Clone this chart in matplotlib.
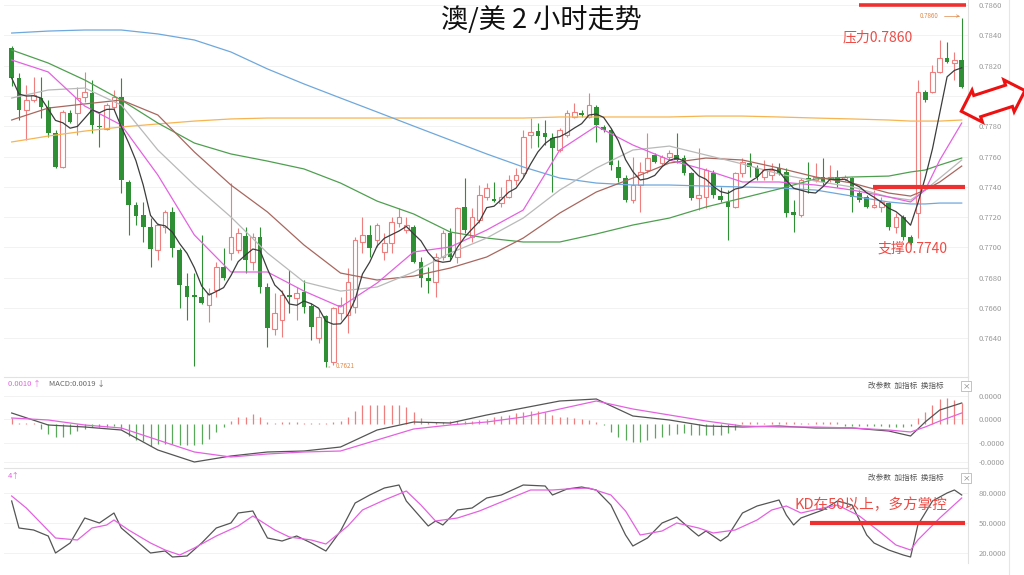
import numpy as np
import pandas as pd
import matplotlib
matplotlib.use("Agg")
import matplotlib.pyplot as plt
from matplotlib.lines import Line2D

plt.rcParams['font.family'] = ['Noto Sans CJK SC', 'DejaVu Sans']
plt.rcParams['axes.unicode_minus'] = False

# AUD/USD 2h candles (one row per bar)
opens = [0.78316, 0.78118, 0.77907, 0.77973, 0.77986, 0.77927, 0.77755, 0.77531, 0.77887, 0.77887,
         0.77993, 0.78019, 0.77801, 0.77782, 0.77927, 0.77993, 0.77432, 0.77280, 0.77214, 0.77135,
         0.76983, 0.77135, 0.77234, 0.76983, 0.76745, 0.76686, 0.76673, 0.76620, 0.76719, 0.76871,
         0.76963, 0.76983, 0.77075, 0.76904, 0.77069, 0.76739, 0.76462, 0.76521, 0.76686, 0.76666,
         0.76706, 0.76613, 0.76402, 0.76547, 0.76244, 0.76567, 0.76554, 0.76607, 0.77036, 0.77082,
         0.77049, 0.76970, 0.77029, 0.77161, 0.77115, 0.77135, 0.76904, 0.76798, 0.76772, 0.76937,
         0.77095, 0.76937, 0.77267, 0.77069, 0.77181, 0.77333, 0.77320, 0.77293, 0.77333, 0.77445,
         0.77491, 0.77742, 0.77768, 0.77755, 0.77722, 0.77643, 0.77742, 0.77861, 0.77887, 0.77861,
         0.77927, 0.77795, 0.77775, 0.77531, 0.77458, 0.77313, 0.77412, 0.77511, 0.77610, 0.77557,
         0.77597, 0.77610, 0.77590, 0.77491, 0.77326, 0.77333, 0.77491, 0.77339, 0.77300, 0.77267,
         0.77491, 0.77557, 0.77524, 0.77465, 0.77478, 0.77524, 0.77498, 0.77234, 0.77214, 0.77458,
         0.77445, 0.77465, 0.77452, 0.77465, 0.77452, 0.77458, 0.77359, 0.77333, 0.77267, 0.77267,
         0.77293, 0.77135, 0.77201, 0.77069, 0.77227, 0.78026, 0.78026, 0.78158, 0.78250, 0.78217,
         0.78237]
highs = [0.78329, 0.78151, 0.78072, 0.78125, 0.78125, 0.77973, 0.77775, 0.77907, 0.77907, 0.78059,
         0.78158, 0.78105, 0.77887, 0.77953, 0.78039, 0.78118, 0.77445, 0.77300, 0.77300, 0.77194,
         0.77161, 0.77247, 0.77267, 0.76996, 0.76831, 0.76831, 0.77082, 0.76732, 0.76904, 0.76996,
         0.77425, 0.77128, 0.77135, 0.77095, 0.77135, 0.76765, 0.76699, 0.76719, 0.76851, 0.76739,
         0.76785, 0.76633, 0.76587, 0.76554, 0.76607, 0.76673, 0.76864, 0.77069, 0.77201, 0.77148,
         0.77161, 0.77095, 0.77201, 0.77260, 0.77201, 0.77148, 0.76937, 0.76871, 0.76963, 0.77115,
         0.77128, 0.77267, 0.77458, 0.77260, 0.77412, 0.77425, 0.77432, 0.77399, 0.77478, 0.77524,
         0.77775, 0.77854, 0.77821, 0.77841, 0.77755, 0.77788, 0.77907, 0.77953, 0.77907, 0.78019,
         0.77940, 0.77808, 0.77788, 0.77577, 0.77478, 0.77597, 0.77564, 0.77755, 0.77623, 0.77610,
         0.77643, 0.77755, 0.77610, 0.77498, 0.77656, 0.77524, 0.77511, 0.77399, 0.77379, 0.77498,
         0.77590, 0.77623, 0.77544, 0.77577, 0.77557, 0.77557, 0.77524, 0.77313, 0.77458, 0.77564,
         0.77557, 0.77590, 0.77544, 0.77511, 0.77478, 0.77465, 0.77379, 0.77346, 0.77379, 0.77333,
         0.77300, 0.77227, 0.77214, 0.77082, 0.78105, 0.78039, 0.78204, 0.78369, 0.78356, 0.78290,
         0.78514]
lows = [0.78065, 0.77841, 0.77709, 0.77960, 0.77854, 0.77729, 0.77524, 0.77524, 0.77821, 0.77742,
        0.77960, 0.77755, 0.77663, 0.77775, 0.77907, 0.77359, 0.77082, 0.77148, 0.77036, 0.76871,
        0.76917, 0.77095, 0.76937, 0.76600, 0.76521, 0.76215, 0.76627, 0.76508, 0.76673, 0.76785,
        0.76917, 0.76963, 0.76831, 0.76851, 0.76699, 0.76343, 0.76422, 0.76409, 0.76567, 0.76521,
        0.76567, 0.76389, 0.76369, 0.76210, 0.76224, 0.76521, 0.76435, 0.76567, 0.76963, 0.76937,
        0.77003, 0.76917, 0.76963, 0.77135, 0.77095, 0.76897, 0.76739, 0.76699, 0.76673, 0.76917,
        0.76917, 0.76897, 0.77095, 0.77036, 0.77161, 0.77313, 0.77300, 0.77267, 0.77326, 0.77412,
        0.77465, 0.77656, 0.77663, 0.77676, 0.77366, 0.77630, 0.77729, 0.77854, 0.77861, 0.77854,
        0.77696, 0.77762, 0.77511, 0.77432, 0.77300, 0.77293, 0.77234, 0.77491, 0.77557, 0.77544,
        0.77577, 0.77557, 0.77478, 0.77313, 0.77247, 0.77260, 0.77326, 0.77300, 0.77049, 0.77260,
        0.77465, 0.77465, 0.77445, 0.77445, 0.77445, 0.77478, 0.77201, 0.77102, 0.77201, 0.77359,
        0.77432, 0.77412, 0.77432, 0.77399, 0.77438, 0.77234, 0.77300, 0.77260, 0.77260, 0.77234,
        0.77115, 0.77095, 0.77049, 0.77016, 0.77062, 0.77960, 0.78019, 0.78151, 0.78217, 0.78105,
        0.78050]
closes = [0.78118, 0.77907, 0.77973, 0.78006, 0.77927, 0.77755, 0.77531, 0.77894, 0.77828, 0.77986,
          0.78026, 0.77808, 0.77795, 0.77940, 0.77993, 0.77445, 0.77280, 0.77207, 0.77135, 0.76990,
          0.77148, 0.77234, 0.76996, 0.76752, 0.76673, 0.76673, 0.76633, 0.76699, 0.76871, 0.76798,
          0.77069, 0.77095, 0.76917, 0.77069, 0.76739, 0.76468, 0.76567, 0.76686, 0.76673, 0.76699,
          0.76607, 0.76475, 0.76541, 0.76244, 0.76600, 0.76620, 0.76772, 0.77049, 0.77082, 0.76996,
          0.77148, 0.77029, 0.77168, 0.77201, 0.77148, 0.76904, 0.76798, 0.76778, 0.76937, 0.77095,
          0.76937, 0.77260, 0.77115, 0.77201, 0.77346, 0.77392, 0.77306, 0.77333, 0.77445, 0.77478,
          0.77729, 0.77762, 0.77735, 0.77729, 0.77656, 0.77775, 0.77887, 0.77894, 0.77874, 0.77940,
          0.77808, 0.77775, 0.77544, 0.77458, 0.77313, 0.77412, 0.77498, 0.77590, 0.77564, 0.77597,
          0.77623, 0.77577, 0.77491, 0.77326, 0.77346, 0.77511, 0.77346, 0.77313, 0.77267, 0.77491,
          0.77564, 0.77531, 0.77465, 0.77511, 0.77511, 0.77491, 0.77227, 0.77214, 0.77445, 0.77445,
          0.77465, 0.77432, 0.77465, 0.77425, 0.77465, 0.77333, 0.77313, 0.77267, 0.77280, 0.77300,
          0.77135, 0.77201, 0.77069, 0.77029, 0.78026, 0.77973, 0.78158, 0.78250, 0.78224, 0.78237,
          0.78059]

# moving averages read at these bars
ma_idx = [0, 5, 10, 15, 20, 25, 30, 35, 40, 45, 50, 55, 60, 65, 70, 75, 80, 85, 90, 95,
          100, 105, 110, 115, 120, 123, 125, 127, 130]
ma10 = [0.78237, 0.78158, 0.77933, 0.77808, 0.77478, 0.77082, 0.76838, 0.76838, 0.76712, 0.76607,
        0.76765, 0.76970, 0.77003, 0.77115, 0.77247, 0.77643, 0.77801, 0.77676, 0.77577, 0.77511,
        0.77432, 0.77432, 0.77412, 0.77379, 0.77333, 0.77300, 0.77379, 0.77577, 0.77821]
ma20 = [0.77986, 0.78039, 0.78052, 0.77940, 0.77643, 0.77412, 0.77201, 0.76963, 0.76772, 0.76712,
        0.76739, 0.76838, 0.76963, 0.77062, 0.77194, 0.77379, 0.77524, 0.77643, 0.77669, 0.77610,
        0.77551, 0.77485, 0.77438, 0.77399, 0.77333, 0.77313, 0.77379, 0.77458, 0.77577]
ma30 = [0.77841, 0.77920, 0.77947, 0.77973, 0.77874, 0.77630, 0.77412, 0.77234, 0.77016, 0.76831,
        0.76785, 0.76811, 0.76864, 0.76937, 0.77062, 0.77227, 0.77366, 0.77458, 0.77557, 0.77590,
        0.77577, 0.77524, 0.77465, 0.77425, 0.77359, 0.77339, 0.77379, 0.77432, 0.77537]
ma60 = [0.78303, 0.78217, 0.78105, 0.77973, 0.77821, 0.77689, 0.77617, 0.77570, 0.77518, 0.77425,
        0.77306, 0.77221, 0.77102, 0.77062, 0.77036, 0.77036, 0.77089, 0.77148, 0.77194, 0.77267,
        0.77326, 0.77386, 0.77452, 0.77465, 0.77471, 0.77498, 0.77511, 0.77544, 0.77590]
ma120 = [0.78415, 0.78428, 0.78435, 0.78435, 0.78409, 0.78369, 0.78290, 0.78178, 0.78079, 0.77986,
         0.77894, 0.77801, 0.77709, 0.77617, 0.77531, 0.77458, 0.77425, 0.77412, 0.77412, 0.77405,
         0.77399, 0.77392, 0.77379, 0.77339, 0.77300, 0.77287, 0.77287, 0.77293, 0.77293]
ma250 = [0.77696, 0.77735, 0.77768, 0.77795, 0.77815, 0.77834, 0.77848, 0.77854, 0.77854, 0.77854,
         0.77854, 0.77854, 0.77854, 0.77854, 0.77854, 0.77861, 0.77861, 0.77861, 0.77861, 0.77867,
         0.77867, 0.77861, 0.77854, 0.77848, 0.77841, 0.77834, 0.77834, 0.77834, 0.77841]

# MACD panel
dif = [0.00044, -0.00004, -0.00012, -0.00024, -0.00104, -0.00152, -0.00128, -0.00112, -0.00108, -0.00092,
       -0.00024, 0.00008, 0.00004, 0.00036, 0.00064, 0.00092, 0.00100, 0.00032, 0.00016, -0.00008,
       -0.00012, -0.00008, -0.00016, -0.00016, -0.00028, -0.00048, 0.00008, 0.00056, 0.00084]
dea = [0.00024, 0.00016, -0.00004, -0.00016, -0.00064, -0.00112, -0.00132, -0.00120, -0.00112, -0.00108,
       -0.00064, -0.00020, -0.00004, 0.00008, 0.00028, 0.00060, 0.00092, 0.00060, 0.00036, 0.00012,
       -0.00008, -0.00012, -0.00012, -0.00016, -0.00024, -0.00032, -0.00012, 0.00012, 0.00044]
macd_bar = [0.00024, 0.00004, 0.00004, 0.00004, -0.0002, -0.0004, -0.00052, -0.00052, -0.0004, -0.00028,
            -0.0002, -0.00012, -0.00012, -0.00012, -0.00008, -0.0002, -0.00048, -0.00064, -0.00068, -0.00088,
            -0.0008, -0.0008, -0.0008, -0.00084, -0.00084, -0.00084, -0.0008, -0.0006, -0.00032, -0.00012,
            0.00012, 0.00028, 0.00028, 0.0004, 0.00028, 0.00008, 0.00004, 0.00008, 0.00008, 0.00008,
            0.00004, 0.00004, 0.00004, 0.00004, 0.00008, 0.00012, 0.00028, 0.00052, 0.00076, 0.00076,
            0.00076, 0.00076, 0.00076, 0.00076, 0.00068, 0.00048, 0.00024, 0.00008, 0.00008, 0.00008,
            0.00012, 0.00012, 0.00012, 0.00012, 0.00016, 0.0002, 0.00028, 0.00032, 0.00036, 0.00044,
            0.00048, 0.00052, 0.00052, 0.00048, 0.00036, 0.00028, 0.00028, 0.00024, 0.0002, 0.00016,
            0.00008, -0.00004, -0.00032, -0.00052, -0.00064, -0.00072, -0.00072, -0.00064, -0.00056, -0.00052,
            -0.00044, -0.0004, -0.00036, -0.00044, -0.00044, -0.00044, -0.00044, -0.00044, -0.00036, -0.00024,
            0.00008, 0.00008, 0.00008, 0.00004, 0.00008, 0.00008, 0.00008, 0.00008, 0.00004, 0.00004,
            0.00008, 0.00008, 0.00008, 0.00008, -0.00008, -0.00008, -0.00008, -0.00008, -0.00008, -0.00008,
            -0.00012, -0.00012, -0.00012, -0.00008, 0.00024, 0.00048, 0.00076, 0.001, 0.00104, 0.00096,
            0.00084]

# KD panel
k_idx = [0, 1, 3, 5, 6, 8, 10, 12, 14, 15, 19, 21, 22, 24, 26, 28, 30, 31, 33, 35,
         37, 39, 41, 43, 45, 47, 49, 51, 53, 54, 57, 58, 59, 61, 63, 65, 67, 70, 73, 74,
         76, 78, 80, 82, 84, 85, 87, 89, 91, 93, 94, 95, 97, 98, 100, 102, 105, 106, 107, 108,
         111, 113, 115, 117, 118, 120, 122, 123, 124, 126, 128, 129, 130]
k_val = [72, 45, 43, 37, 20, 30, 55, 50, 60, 45, 20, 22, 16, 17, 30, 45, 50, 60, 62, 35,
         32, 37, 30, 22, 42, 70, 78, 85, 88, 72, 47, 52, 48, 63, 65, 75, 78, 88, 87, 78,
         84, 86, 83, 68, 38, 27, 35, 50, 56, 43, 37, 42, 32, 37, 60, 67, 73, 58, 48, 55,
         63, 72, 68, 38, 30, 23, 18, 16, 48, 72, 80, 83, 78]
d_idx = [0, 2, 4, 6, 9, 11, 13, 14, 16, 19, 21, 23, 25, 28, 31, 33, 36, 38, 41, 43,
         46, 48, 51, 54, 56, 58, 61, 64, 66, 69, 71, 74, 76, 79, 82, 84, 86, 89, 91, 94,
         96, 99, 102, 104, 106, 108, 111, 113, 116, 119, 121, 123, 124, 127, 130]
d_val = [77, 65, 50, 35, 33, 45, 48, 53, 43, 30, 23, 18, 25, 37, 47, 57, 43, 36, 33, 29,
         47, 63, 73, 82, 68, 52, 55, 62, 68, 77, 83, 83, 84, 85, 78, 62, 38, 42, 50, 45,
         40, 43, 53, 63, 67, 60, 65, 68, 57, 40, 28, 23, 33, 55, 75]

price_ticks = [0.7860, 0.7840, 0.7820, 0.7800, 0.7780, 0.7760, 0.7740, 0.7720, 0.7700, 0.7680, 0.7660, 0.7640]
macd_ticks = [0.00113, 0.00019, -0.00077, -0.00153]
macd_tick_labels = ["0.0000", "0.0000", "-0.0000", "-0.0000"]
kd_ticks = [80, 50, 20]
kd_tick_labels = ["80.0000", "50.0000", "20.0000"]

W, H = 1024, 575
RED = '#ef7f7f'
GREEN = '#2f8f35'
ANN = '#ee4b45'
MAG = '#e462e0'


def fx(p):
    return p / W


def fy(p):
    return 1 - p / H


def box(top, bottom):
    return [fx(4), fy(bottom), 964 / W, (bottom - top) / H]


fig = plt.figure(figsize=(W / 100, H / 100), dpi=100)
ax = fig.add_axes(box(0, 377))
ax2 = fig.add_axes(box(377, 468))
ax3 = fig.add_axes(box(468, 563))

x = np.arange(len(closes))
o = np.array(opens)
h = np.array(highs)
l = np.array(lows)
c = np.array(closes)
up = c >= o
bot = np.minimum(o, c)
hgt = np.maximum(np.abs(c - o), 0.00003)

# candles
ax.vlines(x[up], l[up], h[up], color=RED, lw=0.8, zorder=3)
ax.vlines(x[~up], l[~up], h[~up], color=GREEN, lw=0.8, zorder=3)
ax.bar(x[up], hgt[up], 0.64, bottom=bot[up], facecolor='white', edgecolor=RED, lw=0.8, zorder=4)
ax.bar(x[~up], hgt[~up], 0.64, bottom=bot[~up], color=GREEN, lw=0, zorder=4)

# moving averages
ma5 = pd.Series(closes).rolling(5, min_periods=1).mean()
ax.plot(ma_idx, ma250, color='#f6b552', lw=0.9, zorder=5)
ax.plot(ma_idx, ma120, color='#6fa8dc', lw=0.9, zorder=5)
ax.plot(ma_idx, ma60, color='#4f9f50', lw=0.9, zorder=5)
ax.plot(ma_idx, ma30, color='#a8675e', lw=0.9, zorder=5)
ax.plot(ma_idx, ma20, color='#b9b9b9', lw=0.9, zorder=5)
ax.plot(ma_idx, ma10, color=MAG, lw=0.9, zorder=5)
ax.plot(x, ma5, color='#3c3c3c', lw=0.9, zorder=6)

# support / resistance marks
ax.hlines(0.7860, 115.9, 130.6, color='#ee3030', lw=2.6, zorder=7)
ax.hlines(0.7740, 117.9, 130.5, color='#ee3030', lw=3, zorder=7)
ax.annotate("0.7621", xy=(43, lows[43]), xytext=(44.3, 0.76215), fontsize=4.5, color='#e0894a',
            va='center', arrowprops=dict(arrowstyle='-', color='#e0894a', lw=0.6))
ax.annotate("0.7860", xy=(130, highs[130]), xytext=(124.2, 0.78527), fontsize=4.5, color='#e0894a',
            va='center', arrowprops=dict(arrowstyle='->', color='#e0894a', lw=0.5,
                                         connectionstyle='angle,angleA=0,angleB=90'))

ax.set_ylim(0.76145, 0.78633)

# MACD
bar_col = [RED if v > 0 else '#5aa85a' for v in macd_bar]
ax2.vlines(x, 0, macd_bar, colors=bar_col, lw=0.9)
ax2.plot(ma_idx, dif, color='#555555', lw=0.9)
ax2.plot(ma_idx, dea, color=MAG, lw=0.9)
ax2.set_ylim(-0.00176, 0.00188)

# KD
ax3.plot(k_idx, k_val, color='#555555', lw=0.9)
ax3.plot(d_idx, d_val, color=MAG, lw=0.9)
ax3.hlines(50, 109.2, 130.5, color='#ee3030', lw=3, zorder=7)
ax3.set_ylim(10, 105)

for a, ticks, labels in [(ax, price_ticks, [f"{t:.4f}" for t in price_ticks]),
                         (ax2, macd_ticks, macd_tick_labels),
                         (ax3, kd_ticks, kd_tick_labels)]:
    a.set_xlim(-1.05, 130.86)
    a.set_xticks([])
    a.yaxis.tick_right()
    a.set_yticks(ticks)
    a.set_yticklabels(labels)
    a.tick_params(axis='y', length=0, pad=8, labelsize=5.5, labelcolor='#9a9a9a')
    a.grid(axis='y', color='#f0f0f0', lw=0.6)
    a.set_axisbelow(True)
    for s in ['left', 'bottom', 'top']:
        a.spines[s].set_visible(False)
    a.spines['right'].set_color('#e2e2e2')
    a.spines['right'].set_linewidth(0.8)
for a in (ax2, ax3):
    a.spines['top'].set_visible(True)
    a.spines['top'].set_color('#e2e2e2')
    a.spines['top'].set_linewidth(0.8)

fig.add_artist(Line2D([fx(1009), fx(1009)], [0, 1], color='#e6e6e6', lw=0.8))

# texts
fig.text(fx(541), fy(20), "澳/美 2 小时走势", ha='center', va='center', fontsize=19.5, color='#111111')
fig.text(fx(843), fy(37), "压力0.7860", ha='left', va='center', fontsize=10, color=ANN)
fig.text(fx(878), fy(249), "支撑0.7740", ha='left', va='center', fontsize=10, color=ANN)
fig.text(fx(795), fy(505), "KD在50以上，多方掌控", ha='left', va='center', fontsize=10.5, color=ANN)

fig.text(fx(8), fy(384), "0.0010 ↑", ha='left', va='center', fontsize=5.5, color=MAG)
fig.text(fx(49), fy(384), "MACD:0.0019 ↓", ha='left', va='center', fontsize=5.5, color='#666666')
fig.text(fx(8), fy(476), "4↑", ha='left', va='center', fontsize=5.5, color=MAG)
for yy in (386, 478):
    fig.text(fx(868), fy(yy), "改参数  加指标  换指标", ha='left', va='center', fontsize=5.5, color='#555555')
    fig.text(fx(966), fy(yy), "×", ha='center', va='center', fontsize=5.5, color='#777777',
             bbox=dict(boxstyle='square,pad=0.15', fc='white', ec='#aaaaaa', lw=0.5))

# hollow double arrow at the right edge
fig.text(fx(993), fy(101), "\u2002" * 6, ha='center', va='center', fontsize=10, rotation=18,
         bbox=dict(boxstyle='darrow,pad=0.3', fc='white', ec='#ee1111', lw=2.2))

fig.savefig("out.png", dpi=100, facecolor='white')
